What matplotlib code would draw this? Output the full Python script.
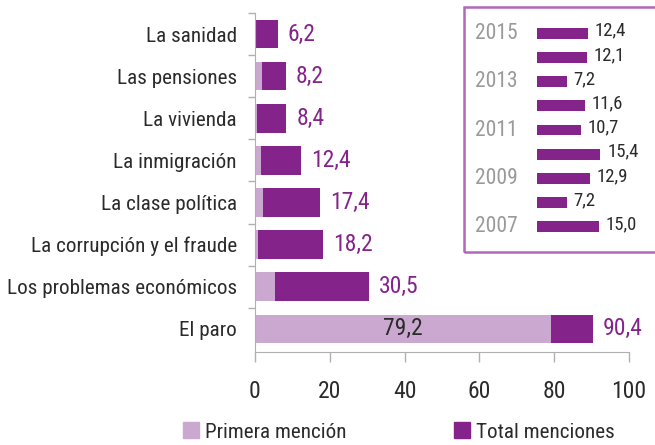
import matplotlib
matplotlib.use("Agg")
import matplotlib.pyplot as plt
from matplotlib.patches import Patch, Rectangle

plt.rcParams["font.family"] = ["Roboto Condensed", "DejaVu Sans"]

# main chart data (top to bottom as drawn)
categories = ["La sanidad", "Las pensiones", "La vivienda", "La inmigración",
              "La clase política", "La corrupción y el fraude",
              "Los problemas económicos", "El paro"]
primera = [0.0, 1.8, 0.6, 1.6, 2.1, 0.7, 5.3, 79.2]
total = [6.2, 8.2, 8.4, 12.4, 17.4, 18.2, 30.5, 90.4]
total_labels = ["6,2", "8,2", "8,4", "12,4", "17,4", "18,2", "30,5", "90,4"]

# inset: yearly series, 2015 at top
inset_years = ["2015", "", "2013", "", "2011", "", "2009", "", "2007"]
inset_values = [12.4, 12.1, 7.2, 11.6, 10.7, 15.4, 12.9, 7.2, 15.0]
inset_labels = ["12,4", "12,1", "7,2", "11,6", "10,7", "15,4", "12,9", "7,2", "15,0"]

DARK = "#84248a"
LIGHT = "#cba8cf"
GREY = "#b0b0b0"
TEXT = "#2b2b2b"

W, H = 655, 445
fig = plt.figure(figsize=(W / 100, H / 100), dpi=100)

ax = fig.add_axes([255 / W, 1 - 352 / H, (629 - 255) / W, (352 - 13) / H])
n = len(categories)
ypos = [n - 1 - i for i in range(n)]
rest = [t - p for t, p in zip(total, primera)]
ax.barh(ypos, primera, height=0.68, color=LIGHT)
ax.barh(ypos, rest, left=primera, height=0.68, color=DARK)

for y, t, lab in zip(ypos, total, total_labels):
    ax.text(t + 2.6, y, lab, color=DARK, fontsize=17, va="center", ha="left")
ax.text(primera[-1] / 2, ypos[-1], "79,2", color=TEXT, fontsize=17,
        va="center", ha="center")

ax.set_xlim(0, 100)
ax.set_ylim(-0.55, n - 0.5)
ax.set_xticks([0, 20, 40, 60, 80, 100])
ax.set_yticks(ypos)
ax.set_yticklabels(categories)
ax.set_yticks([k + 0.5 for k in range(n)], minor=True)
ax.tick_params(axis="y", which="major", length=0, pad=13, labelsize=15.2,
               labelcolor=TEXT)
ax.tick_params(axis="y", which="minor", length=5, color=GREY, width=1)
ax.tick_params(axis="x", length=7, color=GREY, width=1, pad=13,
               labelsize=17, labelcolor=TEXT)
for s in ["top", "right"]:
    ax.spines[s].set_visible(False)
for s in ["left", "bottom"]:
    ax.spines[s].set_color(GREY)

# inset box
fig.patches.append(Rectangle((464 / W, 1 - 252 / H), (W + 5 - 464) / W,
                             (252 - 7) / H, transform=fig.transFigure,
                             fill=False, edgecolor="#b366ba", linewidth=1.8))

iax = fig.add_axes([537 / W, 1 - 239 / H, 80 / W, (239 - 21) / H])
m = len(inset_values)
iy = [m - 1 - i for i in range(m)]
iax.barh(iy, inset_values, height=0.45, color=DARK)
for y, v, lab, yr in zip(iy, inset_values, inset_labels, inset_years):
    iax.text(v + 1.7, y + 0.1, lab, fontsize=13.5, color=TEXT, va="center")
    if yr:
        iax.text(-15.2, y, yr, fontsize=15.5, color="#9a9a9a", va="center",
                 ha="left")
iax.set_xlim(0, 19.5)
iax.set_ylim(-0.5, m - 0.5)
iax.axis("off")

handles = [Patch(color=LIGHT, label="Primera mención"),
           Patch(color=DARK, label="Total menciones")]
fig.legend(handles=handles, loc="center", bbox_to_anchor=(399 / W, 1 - 432 / H),
           ncol=2, frameon=False, fontsize=15.2, handlelength=0.75,
           handleheight=0.75, handletextpad=0.3, columnspacing=5.1,
           labelcolor=TEXT)

fig.savefig("out.png", dpi=100)
